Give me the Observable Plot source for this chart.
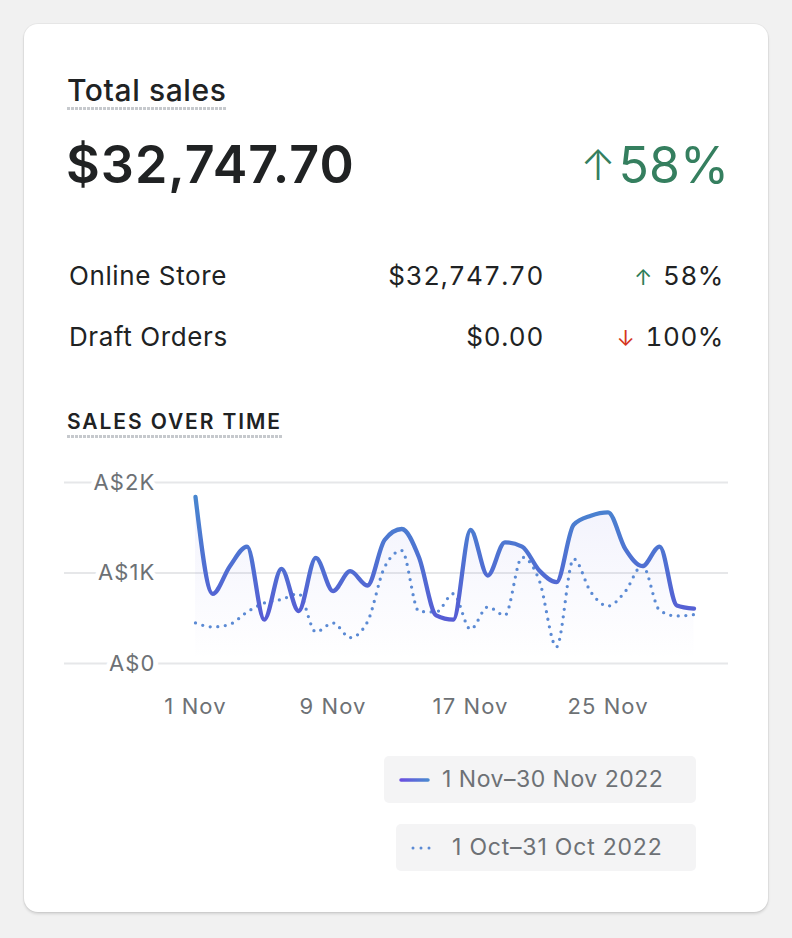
<!DOCTYPE html>
<html>
<head>
<meta charset="utf-8">
<script src="https://cdn.jsdelivr.net/npm/d3@7"></script>
<script src="https://cdn.jsdelivr.net/npm/@observablehq/plot@0.6"></script>
<style>
  html, body { margin: 0; padding: 0; }
  body { width: 792px; height: 938px; background: #f1f1f1; position: relative; overflow: hidden;
         font-family: Inter, "Noto Sans", sans-serif; color: #202223; }
  .card { position: absolute; left: 24px; top: 24px; width: 744px; height: 888px; background: #fff;
          border-radius: 14px; box-shadow: 0 0 0 1px rgba(0,0,0,0.04), 0 2px 3px rgba(0,0,0,0.13); }
  .abs { position: absolute; white-space: nowrap; }
  .num { font-variant-numeric: tabular-nums; }
  .dotline { position: absolute; height: 2.5px;
             background-image: repeating-linear-gradient(to right, #c6c9cd 0 2.7px, transparent 2.7px 4px); }
  .legend { position: absolute; background: #f4f4f5; border-radius: 5px; }
  .legtext { position: absolute; font-size: 23px; line-height: 23px; color: #6d7175; white-space: nowrap; letter-spacing: 0.5px; }
</style>
</head>
<body>
<div class="card"></div>
<div id="header"></div>
<div id="chart" style="position:absolute; left:64px; top:460px;"></div>
<div id="legend"></div>
<script>
// ---- data ----
const totalLabel = "Total sales";
const totalValue = "$32,747.70";
const totalChange = "58%";
const channelNames = ["Online Store", "Draft Orders"];
const channelValues = ["$32,747.70", "$0.00"];
const channelChanges = ["58%", "100%"];
const channelDirections = ["up", "down"];
const sectionTitle = "SALES OVER TIME";
const dayLabels = d3.range(1, 31); // 1..30 Nov 2022
const currentSales = [1840, 770, 1075, 1292, 484, 1046, 580, 1167, 800, 1020,
                      862, 1365, 1486, 1174, 532, 484, 1475, 972, 1339, 1292,
                      1028, 899, 1534, 1633, 1670, 1266, 1075, 1292, 642, 606];
const previousSales = [448, 404, 433, 569, 668, 708, 771, 349, 448, 286,
                       459, 1064, 1248, 576, 569, 771, 378, 624, 532, 1174,
                       917, 183, 1156, 789, 635, 796, 1083, 587, 525, 540];
const yTicks = [0, 1000, 2000];
const yTickLabels = ["A$0", "A$1K", "A$2K"];
const xTickDays = [1, 9, 17, 25];
const xTickLabels = ["1 Nov", "9 Nov", "17 Nov", "25 Nov"];
const legendLabels = ["1 Nov\u201330 Nov 2022", "1 Oct\u201331 Oct 2022"];

// ---- header (HTML text) ----
const header = document.getElementById("header");
function addText(txt, opts, cls) {
  const d = document.createElement("div");
  d.className = "abs" + (cls ? " " + cls : "");
  d.textContent = txt;
  Object.assign(d.style, opts);
  header.appendChild(d);
  return d;
}
addText(totalLabel, {left: "67px", top: "75px", fontSize: "30px", lineHeight: "30px", fontWeight: "500", letterSpacing: "0.6px"});
const u1 = document.createElement("div"); u1.className = "dotline";
Object.assign(u1.style, {left: "67px", top: "107px", width: "160px"}); header.appendChild(u1);

addText(totalValue, {left: "66px", top: "139px", fontSize: "52px", lineHeight: "52px", fontWeight: "600", letterSpacing: "1px"});
const big = addText("", {right: (792 - 729) + "px", top: "139px", fontSize: "50px", lineHeight: "52px", fontWeight: "400", color: "#357f5f", letterSpacing: "0px"});
const bigArrow = document.createElement("span");
bigArrow.textContent = "\u2191";
Object.assign(bigArrow.style, {fontSize: "42px", fontWeight: "300", marginRight: "3px", position: "relative", top: "-3px"});
big.appendChild(bigArrow);
big.appendChild(document.createTextNode(totalChange));

const rowBase = [285, 346];
channelNames.forEach((name, i) => {
  const top = (rowBase[i] - 22.4) + "px";
  addText(name, {left: "69px", top, fontSize: "26px", lineHeight: "26px", letterSpacing: "0.6px"});
  addText(channelValues[i], {right: (792 - 544) + "px", top, fontSize: "26px", lineHeight: "26px", letterSpacing: "0.7px"}, "num");
  const wrap = addText("", {right: (792 - 724) + "px", top, fontSize: "26px", lineHeight: "26px", letterSpacing: "0.6px"}, "num");
  const arrow = document.createElement("span");
  arrow.textContent = channelDirections[i] === "up" ? "\u2191" : "\u2193";
  arrow.style.color = channelDirections[i] === "up" ? "#2e7d58" : "#d4361e";
  arrow.style.fontSize = "22px";
  arrow.style.marginRight = "10px";
  wrap.appendChild(arrow);
  wrap.appendChild(document.createTextNode(channelChanges[i]));
});

addText(sectionTitle, {left: "67px", top: "411px", fontSize: "21px", lineHeight: "21px", fontWeight: "600", letterSpacing: "1.9px"});
const u2 = document.createElement("div"); u2.className = "dotline";
Object.assign(u2.style, {left: "67px", top: "435px", width: "215px"}); header.appendChild(u2);

// ---- chart ----
const toDate = d => new Date(Date.UTC(2022, 10, d));
const current = dayLabels.map((d, i) => ({date: toDate(d), value: currentSales[i]}));
const previous = dayLabels.map((d, i) => ({date: toDate(d), value: previousSales[i]}));

const chart = Plot.plot({
  width: 664,
  height: 260,
  marginLeft: 0, marginRight: 0, marginTop: 0, marginBottom: 0,
  x: {type: "utc", domain: [toDate(1), toDate(30)], range: [131, 629.5], axis: null},
  y: {domain: [0, 2000], range: [203, 22], axis: null},
  style: {fontFamily: "Inter, sans-serif", fontSize: "22px", letterSpacing: "1.1px", background: "transparent", overflow: "visible"},
  marks: [
    Plot.ruleY(yTicks, {stroke: "#e6e7e9", strokeWidth: 2}),
    Plot.text(yTicks, {y: d => d, frameAnchor: "left", dx: 91, textAnchor: "end",
      text: (d, i) => yTickLabels[i], fill: "#6d7175", stroke: "white", strokeWidth: 10, fontSize: 22}),
    Plot.areaY(current, {x: "date", y: "value", curve: "monotone-x", fill: "url(#areaGrad)"}),
    Plot.line(previous, {x: "date", y: "value", curve: "monotone-x", stroke: "#5b8ad4",
      strokeWidth: 3.3, strokeDasharray: "0 7.6", strokeLinecap: "round"}),
    Plot.line(current, {x: "date", y: "value", curve: "monotone-x", stroke: "url(#lineGrad)",
      strokeWidth: 4.3, strokeLinecap: "round", strokeLinejoin: "round"}),
    Plot.text(xTickDays, {x: d => toDate(d), frameAnchor: "bottom", dy: -7,
      text: (d, i) => xTickLabels[i], fill: "#6d7175", fontSize: 22})
  ]
});
const svg = d3.select(chart);
const defs = svg.insert("defs", ":first-child");
const lg = defs.append("linearGradient").attr("id", "lineGrad").attr("gradientUnits", "userSpaceOnUse")
  .attr("x1", 0).attr("y1", 30).attr("x2", 0).attr("y2", 200);
lg.append("stop").attr("offset", "0%").attr("stop-color", "#4788cf");
lg.append("stop").attr("offset", "100%").attr("stop-color", "#5b4fd6");
const ag = defs.append("linearGradient").attr("id", "areaGrad").attr("gradientUnits", "userSpaceOnUse")
  .attr("x1", 0).attr("y1", 22).attr("x2", 0).attr("y2", 200);
ag.append("stop").attr("offset", "0%").attr("stop-color", "#6366e0").attr("stop-opacity", 0.09);
ag.append("stop").attr("offset", "100%").attr("stop-color", "#6366e0").attr("stop-opacity", 0);
document.getElementById("chart").appendChild(chart);

// ---- legend ----
const legend = document.getElementById("legend");
const boxes = [
  {left: 384, top: 756, width: 312, height: 47},
  {left: 396, top: 824, width: 300, height: 47}
];
boxes.forEach((b, i) => {
  const box = document.createElement("div");
  box.className = "legend";
  Object.assign(box.style, {left: b.left + "px", top: b.top + "px", width: b.width + "px", height: b.height + "px"});
  legend.appendChild(box);
  const sw = d3.create("svg").attr("width", 32).attr("height", 10)
    .style("position", "absolute").style("left", (i === 0 ? 399 : 410) + "px").style("top", (b.top + 18.5) + "px");
  if (i === 0) {
    const g = sw.append("defs").append("linearGradient").attr("id", "legGrad")
      .attr("gradientUnits", "userSpaceOnUse").attr("x1", 2).attr("x2", 29).attr("y1", 0).attr("y2", 0);
    g.append("stop").attr("offset", "0%").attr("stop-color", "#6a4fe0");
    g.append("stop").attr("offset", "100%").attr("stop-color", "#4a88d0");
    sw.append("line").attr("x1", 2).attr("x2", 29).attr("y1", 5).attr("y2", 5)
      .attr("stroke", "url(#legGrad)").attr("stroke-width", 3.5).attr("stroke-linecap", "round");
  } else {
    sw.append("line").attr("x1", 3).attr("x2", 26).attr("y1", 5).attr("y2", 5)
      .attr("stroke", "#5b8ad4").attr("stroke-width", 3).attr("stroke-linecap", "round")
      .attr("stroke-dasharray", "0 8");
  }
  legend.appendChild(sw.node());
  const t = document.createElement("div");
  t.className = "legtext";
  t.textContent = legendLabels[i];
  Object.assign(t.style, {left: (i === 0 ? 442 : 452) + "px", top: (b.top + 12) + "px", letterSpacing: i === 0 ? "0.5px" : "0.8px"});
  legend.appendChild(t);
});
</script>
</body>
</html>
